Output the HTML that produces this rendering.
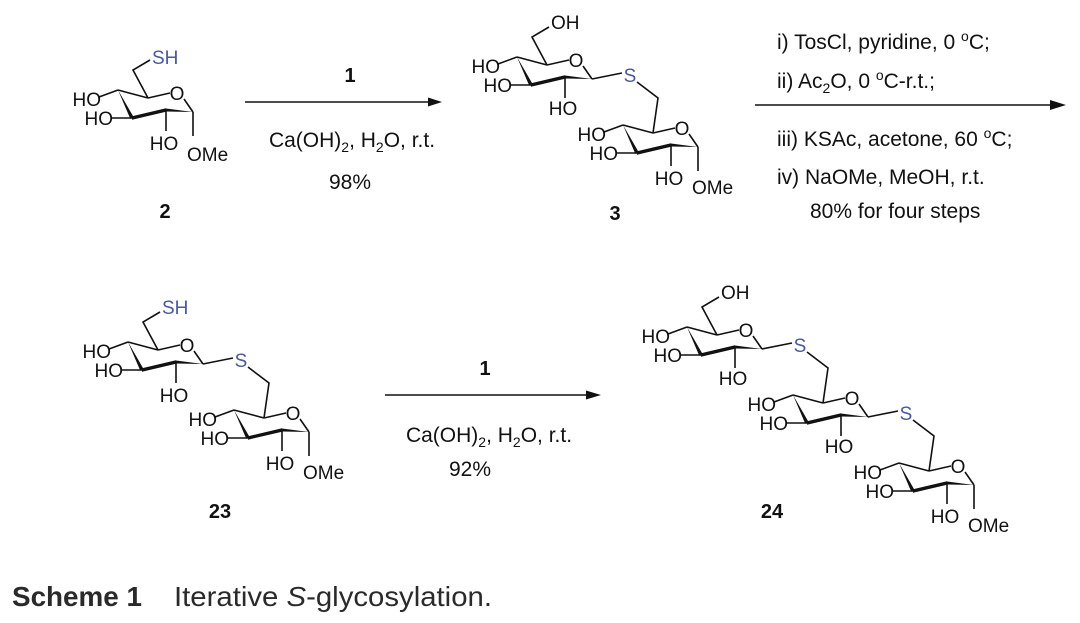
<!DOCTYPE html>
<html><head><meta charset="utf-8"><style>
html,body{margin:0;padding:0;background:#fff;}
svg{display:block;font-family:"Liberation Sans",Arial,sans-serif;}
.l{font-size:19px;fill:#111;}
.s{font-size:19px;fill:#4a5a9a;}
.r{font-size:21px;fill:#111;}
.b{font-size:20px;font-weight:bold;fill:#111;}
</style></head><body>
<svg width="1080" height="623" viewBox="0 0 1080 623" xmlns="http://www.w3.org/2000/svg">
<defs>
<g id="ring" stroke="#111" stroke-width="1.6" fill="none">
  <line x1="0" y1="0" x2="30" y2="8"/>
  <line x1="30" y1="8" x2="52" y2="3"/>
  <line x1="66" y1="9" x2="75" y2="22"/>
  <polygon points="75,22 48,18.5 48,21.5" fill="#111" stroke="none"/>
  <polygon points="48,18.3 48,21.7 14,29.7 14,26.3" fill="#111" stroke="none"/>
  <polygon points="0,0 12.3,28.8 15.7,27.2" fill="#111" stroke="none"/>
  <line x1="0" y1="0" x2="-19" y2="7"/>
  <line x1="14" y1="28" x2="-6" y2="28"/>
  <line x1="48" y1="20" x2="48" y2="41"/>
</g>
<g id="c6" stroke="#111" stroke-width="1.6" fill="none">
  <polyline points="30,8 15,-20 32,-30"/>
</g>
<g id="ome" stroke="#111" stroke-width="1.6" fill="none">
  <line x1="75" y1="22" x2="75" y2="46"/>
</g>
<g id="link" stroke="#111" stroke-width="1.6" fill="none">
  <line x1="75" y1="22" x2="105" y2="16"/>
  <polyline points="120,25 141,41 136,76"/>
</g>
</defs>

<!-- Compound 2 -->
<g transform="translate(118,90)">
  <use href="#ring"/><use href="#c6"/><use href="#ome"/>
  <text class="l" x="59" y="10" text-anchor="middle">O</text>
  <text class="l" x="-17" y="16" text-anchor="end">HO</text>
  <text class="l" x="-5" y="35" text-anchor="end">HO</text>
  <text class="l" x="46" y="60" text-anchor="middle">HO</text>
  <text class="l" x="69" y="71">OMe</text>
  <text class="s" x="34" y="-26">SH</text>
</g>
<text class="b" x="165" y="218" text-anchor="middle">2</text>

<!-- Compound 3 -->
<g transform="translate(517,57)">
  <use href="#ring"/><use href="#c6"/><use href="#link"/>
  <text class="l" x="59" y="10" text-anchor="middle">O</text>
  <text class="l" x="-17" y="16" text-anchor="end">HO</text>
  <text class="l" x="-5" y="35" text-anchor="end">HO</text>
  <text class="l" x="46" y="58" text-anchor="middle">HO</text>
  <text class="l" x="34" y="-28">OH</text>
  <text class="s" x="113" y="25" text-anchor="middle">S</text>
</g>
<g transform="translate(623,125)">
  <use href="#ring"/><use href="#ome"/>
  <text class="l" x="59" y="10" text-anchor="middle">O</text>
  <text class="l" x="-17" y="16" text-anchor="end">HO</text>
  <text class="l" x="-5" y="35" text-anchor="end">HO</text>
  <text class="l" x="46" y="60" text-anchor="middle">HO</text>
  <text class="l" x="69" y="69">OMe</text>
</g>
<text class="b" x="615" y="220" text-anchor="middle">3</text>

<!-- Arrow 1 -->
<line x1="245" y1="102" x2="430" y2="102" stroke="#111" stroke-width="1.4"/>
<polygon points="442,102 428,97.5 428,106.5" fill="#111"/>
<text class="b" x="350" y="82" text-anchor="middle">1</text>
<text class="r" x="352" y="147" text-anchor="middle">Ca(OH)<tspan font-size="14" dy="5">2</tspan><tspan dy="-5">, H</tspan><tspan font-size="14" dy="5">2</tspan><tspan dy="-5">O, r.t.</tspan></text>
<text class="r" x="350" y="189" text-anchor="middle">98%</text>

<!-- Arrow 2 -->
<line x1="755" y1="105" x2="1052" y2="105" stroke="#111" stroke-width="1.4"/>
<polygon points="1066,105 1050,100 1050,110" fill="#111"/>
<text class="r" x="777" y="49">i) TosCl,  pyridine, 0 <tspan font-size="14" dy="-8">o</tspan><tspan dy="8">C;</tspan></text>
<text class="r" x="777" y="88">ii) Ac<tspan font-size="14" dy="5">2</tspan><tspan dy="-5">O, 0 </tspan><tspan font-size="14" dy="-8">o</tspan><tspan dy="8">C-r.t.;</tspan></text>
<text class="r" x="777" y="146">iii) KSAc, acetone, 60 <tspan font-size="14" dy="-8">o</tspan><tspan dy="8">C;</tspan></text>
<text class="r" x="777" y="184">iv) NaOMe, MeOH, r.t.</text>
<text class="r" x="810" y="218">80% for four steps</text>

<!-- Compound 23 -->
<g transform="translate(128,342)">
  <use href="#ring"/><use href="#c6"/><use href="#link"/>
  <text class="l" x="59" y="10" text-anchor="middle">O</text>
  <text class="l" x="-17" y="16" text-anchor="end">HO</text>
  <text class="l" x="-5" y="35" text-anchor="end">HO</text>
  <text class="l" x="46" y="60" text-anchor="middle">HO</text>
  <text class="s" x="34" y="-28">SH</text>
  <text class="s" x="113" y="25" text-anchor="middle">S</text>
</g>
<g transform="translate(234,410)">
  <use href="#ring"/><use href="#ome"/>
  <text class="l" x="59" y="10" text-anchor="middle">O</text>
  <text class="l" x="-17" y="16" text-anchor="end">HO</text>
  <text class="l" x="-5" y="35" text-anchor="end">HO</text>
  <text class="l" x="46" y="60" text-anchor="middle">HO</text>
  <text class="l" x="69" y="69">OMe</text>
</g>
<text class="b" x="220" y="518" text-anchor="middle">23</text>

<!-- Arrow 3 -->
<line x1="385" y1="395" x2="588" y2="395" stroke="#111" stroke-width="1.4"/>
<polygon points="601,395 586,390.5 586,399.5" fill="#111"/>
<text class="b" x="485" y="375" text-anchor="middle">1</text>
<text class="r" x="489" y="442" text-anchor="middle">Ca(OH)<tspan font-size="14" dy="5">2</tspan><tspan dy="-5">, H</tspan><tspan font-size="14" dy="5">2</tspan><tspan dy="-5">O, r.t.</tspan></text>
<text class="r" x="470" y="476" text-anchor="middle">92%</text>

<!-- Compound 24 -->
<g transform="translate(687,327)">
  <use href="#ring"/><use href="#c6"/><use href="#link"/>
  <text class="l" x="59" y="10" text-anchor="middle">O</text>
  <text class="l" x="-17" y="16" text-anchor="end">HO</text>
  <text class="l" x="-5" y="35" text-anchor="end">HO</text>
  <text class="l" x="46" y="58" text-anchor="middle">HO</text>
  <text class="l" x="34" y="-28">OH</text>
  <text class="s" x="113" y="25" text-anchor="middle">S</text>
</g>
<g transform="translate(793,395)">
  <use href="#ring"/><use href="#link"/>
  <text class="l" x="59" y="10" text-anchor="middle">O</text>
  <text class="l" x="-17" y="16" text-anchor="end">HO</text>
  <text class="l" x="-5" y="35" text-anchor="end">HO</text>
  <text class="l" x="46" y="58" text-anchor="middle">HO</text>
  <text class="s" x="113" y="25" text-anchor="middle">S</text>
</g>
<g transform="translate(899,463)">
  <use href="#ring"/><use href="#ome"/>
  <text class="l" x="59" y="10" text-anchor="middle">O</text>
  <text class="l" x="-17" y="16" text-anchor="end">HO</text>
  <text class="l" x="-5" y="35" text-anchor="end">HO</text>
  <text class="l" x="46" y="60" text-anchor="middle">HO</text>
  <text class="l" x="69" y="69">OMe</text>
</g>
<text class="b" x="772" y="518" text-anchor="middle">24</text>

<!-- Caption -->
<text x="12" y="606" font-size="28" font-weight="bold" fill="#2a2a2a" textLength="130" lengthAdjust="spacingAndGlyphs">Scheme 1</text>
<text x="174" y="606" font-size="28" fill="#2a2a2a" textLength="318" lengthAdjust="spacingAndGlyphs">Iterative <tspan font-style="italic">S</tspan>-glycosylation.</text>
</svg>
</body></html>
